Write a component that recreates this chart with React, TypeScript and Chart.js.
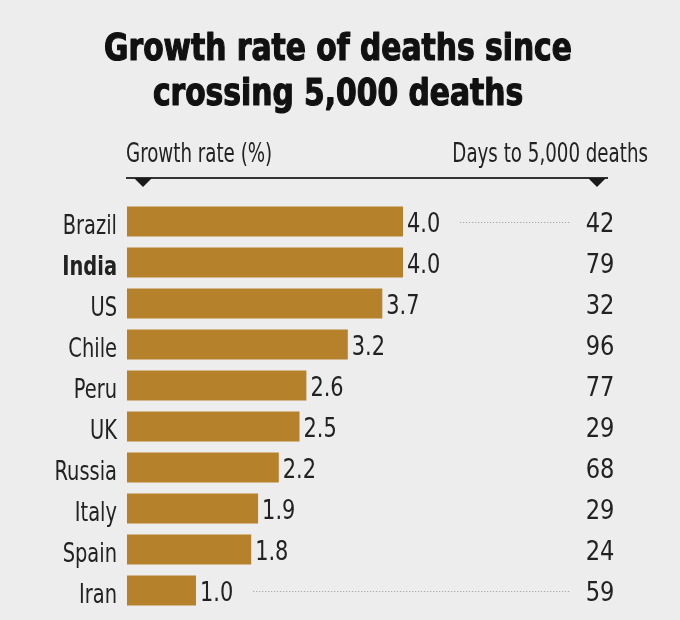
import React, { useEffect, useRef } from 'react';
import { Chart, registerables } from 'chart.js';
Chart.register(...registerables);

const countries = ['Brazil', 'India', 'US', 'Chile', 'Peru', 'UK', 'Russia', 'Italy', 'Spain', 'Iran'];
const growthRate = [4.0, 4.0, 3.7, 3.2, 2.6, 2.5, 2.2, 1.9, 1.8, 1.0];
const daysTo5000 = [42, 79, 32, 96, 77, 29, 68, 29, 24, 59];
const highlighted = ['India'];
const guideRows = ['Brazil', 'Iran'];
const titleLines = ['Growth rate of deaths since', 'crossing 5,000 deaths'];
const leftHeader = 'Growth rate (%)';
const rightHeader = 'Days to 5,000 deaths';

const FONT = "'Liberation Sans Narrow', 'DejaVu Sans Condensed', 'Arial Narrow', sans-serif";
const BG = '#ededed';
const BAR = '#b6812b';
const INK = '#222222';

function drawText(
  ctx: CanvasRenderingContext2D,
  text: string,
  x: number,
  y: number,
  align: CanvasTextAlign,
  font: string,
  sx: number,
  color: string,
  strokeW = 0
) {
  ctx.save();
  ctx.translate(x, y);
  ctx.scale(sx, 1);
  ctx.font = font;
  ctx.fillStyle = color;
  ctx.textAlign = align;
  ctx.textBaseline = 'alphabetic';
  ctx.fillText(text, 0, 0);
  if (strokeW > 0) {
    ctx.strokeStyle = color;
    ctx.lineWidth = strokeW;
    ctx.lineJoin = 'round';
    ctx.strokeText(text, 0, 0);
  }
  ctx.restore();
}

const overlay = {
  id: 'overlay',
  beforeDraw(chart: any) {
    const { ctx, width, height } = chart;
    ctx.save();
    ctx.fillStyle = BG;
    ctx.fillRect(0, 0, width, height);
    ctx.restore();
  },
  afterDatasetsDraw(chart: any) {
    const { ctx, chartArea, width } = chart;
    const meta = chart.getDatasetMeta(0);
    const yScale = chart.scales.y;
    const ruleLeft = chartArea.left - 1;
    const ruleRight = width - 72;
    const daysX = width - 80;
    const titleX = width / 2 - 2;

    // title
    titleLines.forEach((line, i) => {
      drawText(ctx, line, titleX, 60 + i * 45, 'center', `bold 38px ${FONT}`, 0.87, '#111', 1.2);
    });

    // headers
    drawText(ctx, leftHeader, ruleLeft, 162, 'left', `26px ${FONT}`, 0.78, INK);
    drawText(ctx, rightHeader, width - 32, 162, 'right', `26px ${FONT}`, 0.78, INK);

    ctx.save();
    ctx.strokeStyle = '#333';
    ctx.lineWidth = 2;
    ctx.beginPath();
    ctx.moveTo(ruleLeft, 178);
    ctx.lineTo(ruleRight, 178);
    ctx.stroke();
    ctx.fillStyle = '#1a1a1a';
    const tri = (cx: number) => {
      ctx.beginPath();
      ctx.moveTo(cx - 9, 178);
      ctx.lineTo(cx + 9, 178);
      ctx.lineTo(cx, 187);
      ctx.closePath();
      ctx.fill();
    };
    tri(ruleLeft + 17);
    tri(ruleRight - 11);
    ctx.restore();

    // category labels, values, days
    const valueFont = `27px ${FONT}`;
    countries.forEach((name, i) => {
      const yc = yScale.getPixelForTick(i);
      const bold = highlighted.includes(name);
      drawText(ctx, name, chartArea.left - 10, yc + 12, 'right', `${bold ? 'bold ' : ''}27px ${FONT}`, 0.8, INK);
    });
    meta.data.forEach((bar: any, i: number) => {
      const label = growthRate[i].toFixed(1);
      const lx = bar.x + 4;
      const sx = 0.86;
      drawText(ctx, label, lx, bar.y + 10, 'left', valueFont, sx, INK);
      drawText(ctx, String(daysTo5000[i]), daysX, bar.y + 10, 'center', valueFont, 0.93, INK);
      if (guideRows.includes(countries[i])) {
        ctx.save();
        ctx.font = valueFont;
        const w = ctx.measureText(label).width * sx;
        ctx.strokeStyle = '#9a9a9a';
        ctx.lineWidth = 1;
        ctx.setLineDash([1, 2]);
        ctx.beginPath();
        ctx.moveTo(lx + w + 20, Math.round(bar.y) + 0.5);
        ctx.lineTo(daysX - 30, Math.round(bar.y) + 0.5);
        ctx.stroke();
        ctx.restore();
      }
    });
  },
};

export default function App() {
  const ref = useRef<HTMLCanvasElement | null>(null);
  useEffect(() => {
    if (!ref.current) return;
    const chart = new Chart(ref.current, {
      type: 'bar',
      data: {
        labels: countries,
        datasets: [
          {
            data: growthRate,
            backgroundColor: BAR,
            borderWidth: 0,
            barPercentage: 0.73,
            categoryPercentage: 1.0,
          },
        ],
      },
      options: {
        indexAxis: 'y',
        responsive: false,
        animation: false,
        layout: { padding: { top: 201, left: 127, right: 70, bottom: 9 } },
        plugins: {
          legend: { display: false },
          tooltip: { enabled: false },
          title: { display: false },
        },
        scales: {
          x: { display: false, min: 0, max: 7 },
          y: { display: false },
        },
      },
      plugins: [overlay],
    });
    return () => chart.destroy();
  }, []);
  return (
    <div style={{ position: 'absolute', left: 0, top: 0, width: 680, height: 620 }}>
      <canvas ref={ref} width={680} height={620} />
    </div>
  );
}
